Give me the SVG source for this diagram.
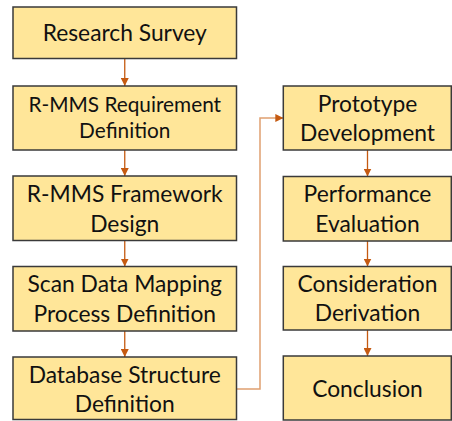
<svg xmlns="http://www.w3.org/2000/svg" width="452" height="421" viewBox="0 0 452 421">
  <defs>
    <marker id="arrow" viewBox="0 0 10 10" refX="10" refY="5" markerWidth="8" markerHeight="8" markerUnits="userSpaceOnUse" orient="auto">
      <path d="M0,0 L10,5 L0,10 Z" fill="#C55A11"/>
    </marker>
    <style>
      .box { fill: #FFE699; stroke: #3A3A3A; stroke-width: 1.5; }
      .lbl { font-family: Lato, "Liberation Sans", sans-serif; font-size: 22.8px; fill: #111; text-anchor: middle; }
      .sm { font-size: 20.8px; }
      .edge { fill: none; stroke: #C55A11; stroke-width: 1.3; marker-end: url(#arrow); }
      .edge2 { fill: none; stroke: #E0A070; stroke-width: 1.5; marker-end: url(#arrow); }
    </style>
  </defs>
  <rect width="452" height="421" fill="#FFFFFF"/>

  <g id="connectors">
    <path class="edge" d="M124.75,58.5 V86"/>
    <path class="edge" d="M124.75,150 V176"/>
    <path class="edge" d="M124.75,240.5 V266.5"/>
    <path class="edge" d="M124.75,331 V357"/>
    <path class="edge2" d="M236.5,389 H260 V118 H283.3"/>
    <path class="edge" d="M367.5,150 V176.5"/>
    <path class="edge" d="M367.5,241 V266.5"/>
    <path class="edge" d="M367.5,330 V356"/>
  </g>

  <g id="research-survey">
    <rect class="box" x="13" y="7" width="223.5" height="51.5"/>
    <text class="lbl" x="124.75" y="41">Research Survey</text>
  </g>
  <g id="requirement-definition">
    <rect class="box" x="13" y="86" width="223.5" height="64"/>
    <text class="lbl sm" x="124.75" y="112">R-MMS Requirement</text>
    <text class="lbl sm" x="124.75" y="138">Definition</text>
  </g>
  <g id="framework-design">
    <rect class="box" x="13" y="176" width="223.5" height="64.5"/>
    <text class="lbl" x="124.75" y="201.7">R-MMS Framework</text>
    <text class="lbl" x="124.75" y="231.7">Design</text>
  </g>
  <g id="mapping-process">
    <rect class="box" x="13" y="266.5" width="223.5" height="64.5"/>
    <text class="lbl" x="124.75" y="291.7">Scan Data Mapping</text>
    <text class="lbl" x="124.75" y="321.7">Process Definition</text>
  </g>
  <g id="database-structure">
    <rect class="box" x="13" y="357" width="223.5" height="62.5"/>
    <text class="lbl" x="124.75" y="382.7">Database Structure</text>
    <text class="lbl" x="124.75" y="411.7">Definition</text>
  </g>

  <g id="prototype-development">
    <rect class="box" x="283.3" y="86" width="168" height="64"/>
    <text class="lbl" x="367.5" y="111.7">Prototype</text>
    <text class="lbl" x="367.5" y="141">Development</text>
  </g>
  <g id="performance-evaluation">
    <rect class="box" x="283.3" y="176.5" width="168" height="64.5"/>
    <text class="lbl" x="367.5" y="201.7">Performance</text>
    <text class="lbl" x="367.5" y="231.7">Evaluation</text>
  </g>
  <g id="consideration-derivation">
    <rect class="box" x="283.3" y="266.5" width="168" height="63.5"/>
    <text class="lbl" x="367.5" y="291.7">Consideration</text>
    <text class="lbl" x="367.5" y="320.7">Derivation</text>
  </g>
  <g id="conclusion">
    <rect class="box" x="283.3" y="356" width="168" height="64"/>
    <text class="lbl" x="367.5" y="396.7">Conclusion</text>
  </g>
</svg>
